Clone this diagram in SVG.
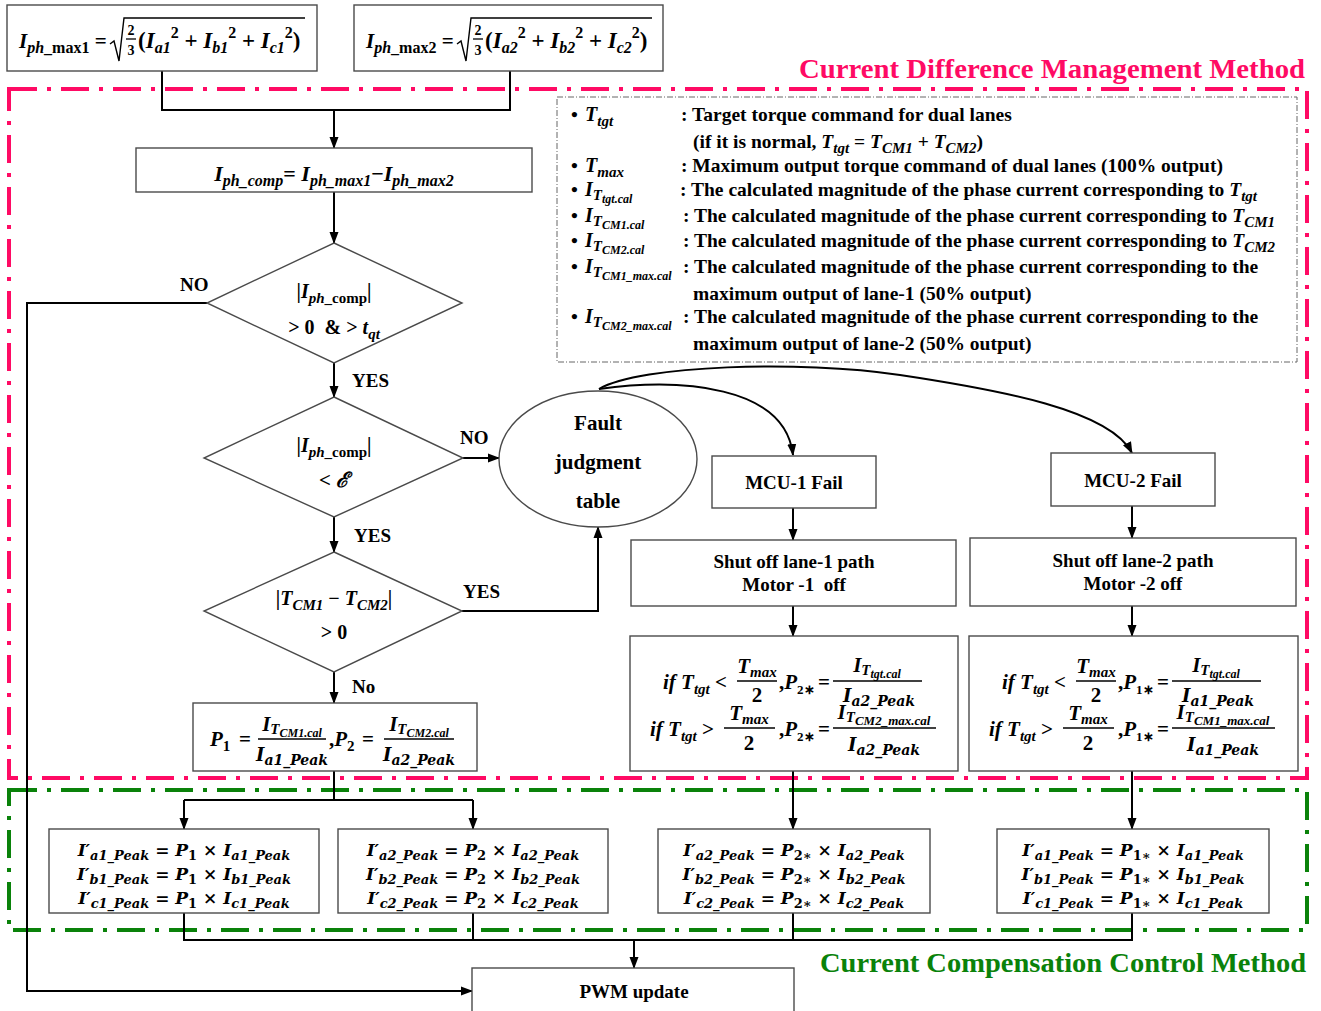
<svg xmlns="http://www.w3.org/2000/svg" width="1321" height="1011" viewBox="0 0 1321 1011">
<style>
.bx{fill:#fff;stroke:#4a4a4a;stroke-width:1.4}
.cn{fill:none;stroke:#000;stroke-width:2}
.t{font-family:"Liberation Serif","Times New Roman",serif;font-weight:bold;fill:#000}
.m{font-family:"Liberation Serif","Times New Roman",serif;font-weight:bold;font-style:italic;fill:#000}
.cm{font-family:"DejaVu Serif",serif;font-weight:bold;font-style:italic;fill:#000}
.u{font-style:normal}
.c{text-anchor:middle}
.fl{stroke:#000;stroke-width:1.3}
</style>
<defs>
<marker id="ah" markerWidth="12" markerHeight="10" refX="11" refY="5" orient="auto" markerUnits="userSpaceOnUse"><path d="M0,0.5 L12,5 L0,9.5 z" fill="#000"/></marker>
</defs>
<rect width="1321" height="1011" fill="#fff"/>

<g id="frames">
<rect x="9" y="89" width="1298" height="689" fill="none" stroke="#ff0a64" stroke-width="4" stroke-dasharray="28 10 4 10"/>
<rect x="9" y="790" width="1298" height="140" fill="none" stroke="#0a820a" stroke-width="4" stroke-dasharray="28 10 4 10"/>
<text class="t" x="799" y="78" font-size="27" style="fill:#ff0a64" textLength="506" lengthAdjust="spacingAndGlyphs">Current Difference Management Method</text>
<text class="t" x="820" y="972" font-size="27" style="fill:#0a820a" textLength="486" lengthAdjust="spacingAndGlyphs">Current Compensation Control Method</text>
</g>

<g id="legend">
<rect x="557" y="97" width="740" height="265" fill="none" stroke="#666" stroke-width="1" stroke-dasharray="6 2 1 2"/>
<g class="t" font-size="19.5">
<text x="571" y="121">•</text><text class="m" x="585" y="121" font-size="20">T<tspan dy="5" font-size="15">tgt</tspan></text>
<text x="681" y="121">: Target torque command for dual lanes</text>
<text x="693" y="148">(if it is normal, <tspan class="m">T</tspan><tspan class="m" dy="5" font-size="15">tgt</tspan><tspan dy="-5"> = </tspan><tspan class="m">T</tspan><tspan class="m" dy="5" font-size="15">CM1</tspan><tspan dy="-5"> + </tspan><tspan class="m">T</tspan><tspan class="m" dy="5" font-size="15">CM2</tspan><tspan dy="-5">)</tspan></text>
<text x="571" y="172">•</text><text class="m" x="585" y="172" font-size="20">T<tspan dy="5" font-size="15">max</tspan></text>
<text x="681" y="172">: Maximum output torque command of dual lanes (100% output)</text>
<text x="571" y="196">•</text><text class="m" x="585" y="196" font-size="20">I<tspan dy="4" font-size="15">T</tspan><tspan dy="3" font-size="12">tgt.cal</tspan></text>
<text x="680" y="196">: The calculated magnitude of the phase current corresponding to <tspan class="m">T</tspan><tspan class="m" dy="5" font-size="15">tgt</tspan></text>
<text x="571" y="222">•</text><text class="m" x="585" y="222" font-size="20">I<tspan dy="4" font-size="15">T</tspan><tspan dy="3" font-size="12">CM1.cal</tspan></text>
<text x="683" y="222">: The calculated magnitude of the phase current corresponding to <tspan class="m">T</tspan><tspan class="m" dy="5" font-size="15">CM1</tspan></text>
<text x="571" y="247">•</text><text class="m" x="585" y="247" font-size="20">I<tspan dy="4" font-size="15">T</tspan><tspan dy="3" font-size="12">CM2.cal</tspan></text>
<text x="683" y="247">: The calculated magnitude of the phase current corresponding to <tspan class="m">T</tspan><tspan class="m" dy="5" font-size="15">CM2</tspan></text>
<text x="571" y="273">•</text><text class="m" x="585" y="273" font-size="20">I<tspan dy="4" font-size="15">T</tspan><tspan dy="3" font-size="12">CM1_max.cal</tspan></text>
<text x="683" y="273">: The calculated magnitude of the phase current corresponding to the</text>
<text x="693" y="300">maximum output of lane-1 (50% output)</text>
<text x="571" y="323">•</text><text class="m" x="585" y="323" font-size="20">I<tspan dy="4" font-size="15">T</tspan><tspan dy="3" font-size="12">CM2_max.cal</tspan></text>
<text x="683" y="323">: The calculated magnitude of the phase current corresponding to the</text>
<text x="693" y="350">maximum output of lane-2 (50% output)</text>
</g>
</g>

<g id="connectors" class="cn">
<polyline points="162,71 162,110 510,110 510,71"/>
<line x1="334" y1="110" x2="334" y2="148" marker-end="url(#ah)"/>
<line x1="334" y1="192" x2="334" y2="243" marker-end="url(#ah)"/>
<line x1="334" y1="363" x2="334" y2="397" marker-end="url(#ah)"/>
<line x1="334" y1="517" x2="334" y2="552" marker-end="url(#ah)"/>
<line x1="334" y1="672" x2="334" y2="703" marker-end="url(#ah)"/>
<line x1="463" y1="458" x2="499" y2="458" marker-end="url(#ah)"/>
<polyline points="462,611 598,611 598,527" marker-end="url(#ah)"/>
<polyline points="207,303 27,303 27,991 472,991" marker-end="url(#ah)"/>
<path d="M599,389 C680,378 785,385 793,455" marker-end="url(#ah)"/>
<path d="M599,389 C640,365 800,360 900,375 C1000,390 1110,410 1132,453" marker-end="url(#ah)"/>
<line x1="793" y1="508" x2="793" y2="540" marker-end="url(#ah)"/>
<line x1="1132" y1="506" x2="1132" y2="538" marker-end="url(#ah)"/>
<line x1="793" y1="606" x2="793" y2="636" marker-end="url(#ah)"/>
<line x1="1132" y1="606" x2="1132" y2="636" marker-end="url(#ah)"/>
<line x1="793" y1="771" x2="793" y2="829" marker-end="url(#ah)"/>
<line x1="1132" y1="771" x2="1132" y2="829" marker-end="url(#ah)"/>
<line x1="334" y1="771" x2="334" y2="800"/>
<line x1="184" y1="800" x2="473" y2="800"/>
<line x1="184" y1="800" x2="184" y2="829" marker-end="url(#ah)"/>
<line x1="473" y1="800" x2="473" y2="829" marker-end="url(#ah)"/>
<polyline points="184,913 184,940 1132,940 1132,913"/>
<line x1="473" y1="913" x2="473" y2="940"/>
<line x1="793" y1="913" x2="793" y2="940"/>
<line x1="634" y1="940" x2="634" y2="968" marker-end="url(#ah)"/>
</g>

<g id="labels" class="t" font-size="19">
<text x="180" y="291">NO</text>
<text x="352" y="387">YES</text>
<text x="460" y="444">NO</text>
<text x="354" y="542">YES</text>
<text x="463" y="598">YES</text>
<text x="352" y="693">No</text>
</g>

<g id="n_iphmax1">
<rect class="bx" x="7" y="5" width="310" height="66"/>
<text class="m" x="19" y="48" font-size="21">I<tspan dy="5" font-size="16">ph</tspan><tspan font-size="16" class="u">_max1</tspan><tspan dy="-5" class="u"> =</tspan></text>
<path d="M110,44 L114,41 L119,61 L124,18 L305,18" fill="none" stroke="#000" stroke-width="1.4"/>
<text class="m u c" x="131" y="35" font-size="14">2</text>
<line class="fl" x1="126" y1="39" x2="136" y2="39"/>
<text class="m u c" x="131" y="55" font-size="14">3</text>
<text class="m" x="138" y="48" font-size="23"><tspan class="u">(</tspan>I<tspan dy="5" font-size="16">a1</tspan><tspan dy="-15" font-size="16" class="u">2</tspan><tspan dy="10" class="u"> + </tspan>I<tspan dy="5" font-size="16">b1</tspan><tspan dy="-15" font-size="16" class="u">2</tspan><tspan dy="10" class="u"> + </tspan>I<tspan dy="5" font-size="16">c1</tspan><tspan dy="-15" font-size="16" class="u">2</tspan><tspan dy="10" class="u">)</tspan></text>
</g>
<g id="n_iphmax2">
<rect class="bx" x="354" y="5" width="309" height="66"/>
<text class="m" x="366" y="48" font-size="21">I<tspan dy="5" font-size="16">ph</tspan><tspan font-size="16" class="u">_max2</tspan><tspan dy="-5" class="u"> =</tspan></text>
<path d="M457,44 L461,41 L466,61 L471,18 L652,18" fill="none" stroke="#000" stroke-width="1.4"/>
<text class="m u c" x="478" y="35" font-size="14">2</text>
<line class="fl" x1="473" y1="39" x2="483" y2="39"/>
<text class="m u c" x="478" y="55" font-size="14">3</text>
<text class="m" x="485" y="48" font-size="23"><tspan class="u">(</tspan>I<tspan dy="5" font-size="16">a2</tspan><tspan dy="-15" font-size="16" class="u">2</tspan><tspan dy="10" class="u"> + </tspan>I<tspan dy="5" font-size="16">b2</tspan><tspan dy="-15" font-size="16" class="u">2</tspan><tspan dy="10" class="u"> + </tspan>I<tspan dy="5" font-size="16">c2</tspan><tspan dy="-15" font-size="16" class="u">2</tspan><tspan dy="10" class="u">)</tspan></text>
</g>

<g id="n_iphcomp">
<rect class="bx" x="136" y="148" width="396" height="44"/>
<text class="m c" x="334" y="181" font-size="22">I<tspan dy="5" font-size="16">ph_comp</tspan><tspan dy="-5" class="u">= </tspan>I<tspan dy="5" font-size="16">ph_max1</tspan><tspan dy="-5" class="u">−</tspan>I<tspan dy="5" font-size="16">ph_max2</tspan></text>
</g>

<g id="n_dec1">
<polygon class="bx" points="334,243 462,303 334,363 207,303"/>
<text class="m c" x="334" y="298" font-size="20"><tspan class="u">|</tspan>I<tspan dy="5" font-size="15">ph</tspan><tspan font-size="15" class="u">_comp</tspan><tspan dy="-5" class="u">|</tspan></text>
<text class="m c" x="334" y="334" font-size="20"><tspan class="u">&gt; 0 &#160;&amp; &gt; </tspan>t<tspan dy="5" font-size="15">qt</tspan></text>
</g>

<g id="n_dec2">
<polygon class="bx" points="334,397 463,458 334,517 204,458"/>
<text class="m c" x="334" y="452" font-size="20"><tspan class="u">|</tspan>I<tspan dy="5" font-size="15">ph</tspan><tspan font-size="15" class="u">_comp</tspan><tspan dy="-5" class="u">|</tspan></text>
<text class="m c" x="334" y="487" font-size="21"><tspan class="u">&lt; </tspan>ℰ</text>
</g>

<g id="n_dec3">
<polygon class="bx" points="334,552 462,611 334,672 204,611"/>
<text class="m c" x="334" y="605" font-size="20"><tspan class="u">|</tspan>T<tspan dy="5" font-size="15">CM1</tspan><tspan dy="-5" class="u"> − </tspan>T<tspan dy="5" font-size="15">CM2</tspan><tspan dy="-5" class="u">|</tspan></text>
<text class="m u c" x="334" y="639" font-size="20">&gt; 0</text>
</g>

<g id="n_fault">
<ellipse class="bx" cx="598" cy="459" rx="99" ry="68"/>
<text class="t c" x="598" y="430" font-size="21">Fault</text>
<text class="t c" x="598" y="469" font-size="21">judgment</text>
<text class="t c" x="598" y="508" font-size="21">table</text>
</g>

<g id="n_p12">
<rect class="bx" x="193" y="703" width="284" height="68"/>
<text class="m" x="210" y="746" font-size="21">P<tspan dy="5" font-size="15" class="u">1</tspan></text>
<text class="m u" x="239" y="746" font-size="21">=</text>
<text class="m c" x="292" y="731" font-size="21">I<tspan dy="3" font-size="15">T</tspan><tspan dy="3" font-size="12">CM1.cal</tspan></text>
<line class="fl" x1="258" y1="739" x2="326" y2="739"/>
<text class="cm c" x="292" y="761" font-size="18">I<tspan dy="4" font-size="14">a1_Peak</tspan></text>
<text class="m" x="329" y="746" font-size="21"><tspan class="u">,</tspan>P<tspan dy="5" font-size="15" class="u">2</tspan></text>
<text class="m u" x="362" y="746" font-size="21">=</text>
<text class="m c" x="419" y="731" font-size="21">I<tspan dy="3" font-size="15">T</tspan><tspan dy="3" font-size="12">CM2.cal</tspan></text>
<line class="fl" x1="384" y1="739" x2="454" y2="739"/>
<text class="cm c" x="419" y="761" font-size="18">I<tspan dy="4" font-size="14">a2_Peak</tspan></text>
</g>

<g id="n_mcu1">
<rect class="bx" x="712" y="456" width="164" height="52"/>
<text class="t c" x="794" y="489" font-size="19">MCU-1 Fail</text>
</g>
<g id="n_mcu2">
<rect class="bx" x="1051" y="453" width="164" height="53"/>
<text class="t c" x="1133" y="487" font-size="19">MCU-2 Fail</text>
</g>
<g id="n_shut1">
<rect class="bx" x="631" y="540" width="325" height="66"/>
<text class="t c" x="794" y="568" font-size="19">Shut off lane-1 path</text>
<text class="t c" x="794" y="591" font-size="19" xml:space="preserve">Motor -1  off</text>
</g>
<g id="n_shut2">
<rect class="bx" x="970" y="538" width="326" height="68"/>
<text class="t c" x="1133" y="567" font-size="19">Shut off lane-2 path</text>
<text class="t c" x="1133" y="590" font-size="19">Motor -2 off</text>
</g>

<g id="n_cond2">
<rect class="bx" x="630" y="636" width="328" height="135"/>
<text class="m" x="663" y="689" font-size="21">if T<tspan dy="5" font-size="15">tgt</tspan><tspan dy="-5" class="u"> &lt;</tspan></text>
<text class="m c" x="757" y="673" font-size="21">T<tspan dy="4" font-size="15">max</tspan></text>
<line class="fl" x1="737" y1="681" x2="777" y2="681"/>
<text class="m u c" x="757" y="702" font-size="21">2</text>
<text class="m" x="779" y="689" font-size="21"><tspan class="u">,</tspan>P<tspan dy="5" font-size="13" class="u">2∗</tspan></text>
<text class="m u" x="818" y="689" font-size="21">=</text>
<text class="m c" x="877" y="672" font-size="21">I<tspan dy="3" font-size="15">T</tspan><tspan dy="3" font-size="12">tgt.cal</tspan></text>
<line class="fl" x1="833" y1="681" x2="922" y2="681"/>
<text class="cm c" x="879" y="702" font-size="18">I<tspan dy="4" font-size="14">a2_Peak</tspan></text>
<text class="m" x="650" y="736" font-size="21">if T<tspan dy="5" font-size="15">tgt</tspan><tspan dy="-5" class="u"> &gt;</tspan></text>
<text class="m c" x="749" y="720" font-size="21">T<tspan dy="4" font-size="15">max</tspan></text>
<line class="fl" x1="724" y1="728" x2="775" y2="728"/>
<text class="m u c" x="749" y="750" font-size="21">2</text>
<text class="m" x="779" y="736" font-size="21"><tspan class="u">,</tspan>P<tspan dy="5" font-size="13" class="u">2∗</tspan></text>
<text class="m u" x="818" y="736" font-size="21">=</text>
<text class="m c" x="884" y="719" font-size="21">I<tspan dy="3" font-size="15">T</tspan><tspan dy="3" font-size="13">CM2_max.cal</tspan></text>
<line class="fl" x1="833" y1="728" x2="936" y2="728"/>
<text class="cm c" x="884" y="751" font-size="18">I<tspan dy="4" font-size="14">a2_Peak</tspan></text>
</g>

<g id="n_cond1">
<rect class="bx" x="969" y="636" width="329" height="135"/>
<text class="m" x="1002" y="689" font-size="21">if T<tspan dy="5" font-size="15">tgt</tspan><tspan dy="-5" class="u"> &lt;</tspan></text>
<text class="m c" x="1096" y="673" font-size="21">T<tspan dy="4" font-size="15">max</tspan></text>
<line class="fl" x1="1076" y1="681" x2="1116" y2="681"/>
<text class="m u c" x="1096" y="702" font-size="21">2</text>
<text class="m" x="1118" y="689" font-size="21"><tspan class="u">,</tspan>P<tspan dy="5" font-size="13" class="u">1∗</tspan></text>
<text class="m u" x="1157" y="689" font-size="21">=</text>
<text class="m c" x="1216" y="672" font-size="21">I<tspan dy="3" font-size="15">T</tspan><tspan dy="3" font-size="12">tgt.cal</tspan></text>
<line class="fl" x1="1172" y1="681" x2="1261" y2="681"/>
<text class="cm c" x="1218" y="702" font-size="18">I<tspan dy="4" font-size="14">a1_Peak</tspan></text>
<text class="m" x="989" y="736" font-size="21">if T<tspan dy="5" font-size="15">tgt</tspan><tspan dy="-5" class="u"> &gt;</tspan></text>
<text class="m c" x="1088" y="720" font-size="21">T<tspan dy="4" font-size="15">max</tspan></text>
<line class="fl" x1="1063" y1="728" x2="1114" y2="728"/>
<text class="m u c" x="1088" y="750" font-size="21">2</text>
<text class="m" x="1118" y="736" font-size="21"><tspan class="u">,</tspan>P<tspan dy="5" font-size="13" class="u">1∗</tspan></text>
<text class="m u" x="1157" y="736" font-size="21">=</text>
<text class="m c" x="1223" y="719" font-size="21">I<tspan dy="3" font-size="15">T</tspan><tspan dy="3" font-size="13">CM1_max.cal</tspan></text>
<line class="fl" x1="1172" y1="728" x2="1275" y2="728"/>
<text class="cm c" x="1223" y="751" font-size="18">I<tspan dy="4" font-size="14">a1_Peak</tspan></text>
</g>

<g id="n_comp1">
<rect class="bx" x="49" y="829" width="270" height="84"/>
<text class="cm c" x="184" y="856" font-size="17">I′<tspan dy="4" font-size="13">a1_Peak</tspan><tspan dy="-4" class="u"> = </tspan>P<tspan dy="4" font-size="13" class="u">1</tspan><tspan dy="-4" class="u"> × </tspan>I<tspan dy="4" font-size="13">a1_Peak</tspan></text>
<text class="cm c" x="184" y="880" font-size="17">I′<tspan dy="4" font-size="13">b1_Peak</tspan><tspan dy="-4" class="u"> = </tspan>P<tspan dy="4" font-size="13" class="u">1</tspan><tspan dy="-4" class="u"> × </tspan>I<tspan dy="4" font-size="13">b1_Peak</tspan></text>
<text class="cm c" x="184" y="904" font-size="17">I′<tspan dy="4" font-size="13">c1_Peak</tspan><tspan dy="-4" class="u"> = </tspan>P<tspan dy="4" font-size="13" class="u">1</tspan><tspan dy="-4" class="u"> × </tspan>I<tspan dy="4" font-size="13">c1_Peak</tspan></text>
</g>
<g id="n_comp2">
<rect class="bx" x="338" y="829" width="270" height="84"/>
<text class="cm c" x="473" y="856" font-size="17">I′<tspan dy="4" font-size="13">a2_Peak</tspan><tspan dy="-4" class="u"> = </tspan>P<tspan dy="4" font-size="13" class="u">2</tspan><tspan dy="-4" class="u"> × </tspan>I<tspan dy="4" font-size="13">a2_Peak</tspan></text>
<text class="cm c" x="473" y="880" font-size="17">I′<tspan dy="4" font-size="13">b2_Peak</tspan><tspan dy="-4" class="u"> = </tspan>P<tspan dy="4" font-size="13" class="u">2</tspan><tspan dy="-4" class="u"> × </tspan>I<tspan dy="4" font-size="13">b2_Peak</tspan></text>
<text class="cm c" x="473" y="904" font-size="17">I′<tspan dy="4" font-size="13">c2_Peak</tspan><tspan dy="-4" class="u"> = </tspan>P<tspan dy="4" font-size="13" class="u">2</tspan><tspan dy="-4" class="u"> × </tspan>I<tspan dy="4" font-size="13">c2_Peak</tspan></text>
</g>
<g id="n_comp3">
<rect class="bx" x="658" y="829" width="272" height="84"/>
<text class="cm c" x="794" y="856" font-size="17">I′<tspan dy="4" font-size="13">a2_Peak</tspan><tspan dy="-4" class="u"> = </tspan>P<tspan dy="4" font-size="13" class="u">2∗</tspan><tspan dy="-4" class="u"> × </tspan>I<tspan dy="4" font-size="13">a2_Peak</tspan></text>
<text class="cm c" x="794" y="880" font-size="17">I′<tspan dy="4" font-size="13">b2_Peak</tspan><tspan dy="-4" class="u"> = </tspan>P<tspan dy="4" font-size="13" class="u">2∗</tspan><tspan dy="-4" class="u"> × </tspan>I<tspan dy="4" font-size="13">b2_Peak</tspan></text>
<text class="cm c" x="794" y="904" font-size="17">I′<tspan dy="4" font-size="13">c2_Peak</tspan><tspan dy="-4" class="u"> = </tspan>P<tspan dy="4" font-size="13" class="u">2∗</tspan><tspan dy="-4" class="u"> × </tspan>I<tspan dy="4" font-size="13">c2_Peak</tspan></text>
</g>
<g id="n_comp4">
<rect class="bx" x="997" y="829" width="272" height="84"/>
<text class="cm c" x="1133" y="856" font-size="17">I′<tspan dy="4" font-size="13">a1_Peak</tspan><tspan dy="-4" class="u"> = </tspan>P<tspan dy="4" font-size="13" class="u">1∗</tspan><tspan dy="-4" class="u"> × </tspan>I<tspan dy="4" font-size="13">a1_Peak</tspan></text>
<text class="cm c" x="1133" y="880" font-size="17">I′<tspan dy="4" font-size="13">b1_Peak</tspan><tspan dy="-4" class="u"> = </tspan>P<tspan dy="4" font-size="13" class="u">1∗</tspan><tspan dy="-4" class="u"> × </tspan>I<tspan dy="4" font-size="13">b1_Peak</tspan></text>
<text class="cm c" x="1133" y="904" font-size="17">I′<tspan dy="4" font-size="13">c1_Peak</tspan><tspan dy="-4" class="u"> = </tspan>P<tspan dy="4" font-size="13" class="u">1∗</tspan><tspan dy="-4" class="u"> × </tspan>I<tspan dy="4" font-size="13">c1_Peak</tspan></text>
</g>

<g id="n_pwm">
<rect class="bx" x="472" y="968" width="322" height="50"/>
<text class="t c" x="634" y="998" font-size="19">PWM update</text>
</g>
</svg>
